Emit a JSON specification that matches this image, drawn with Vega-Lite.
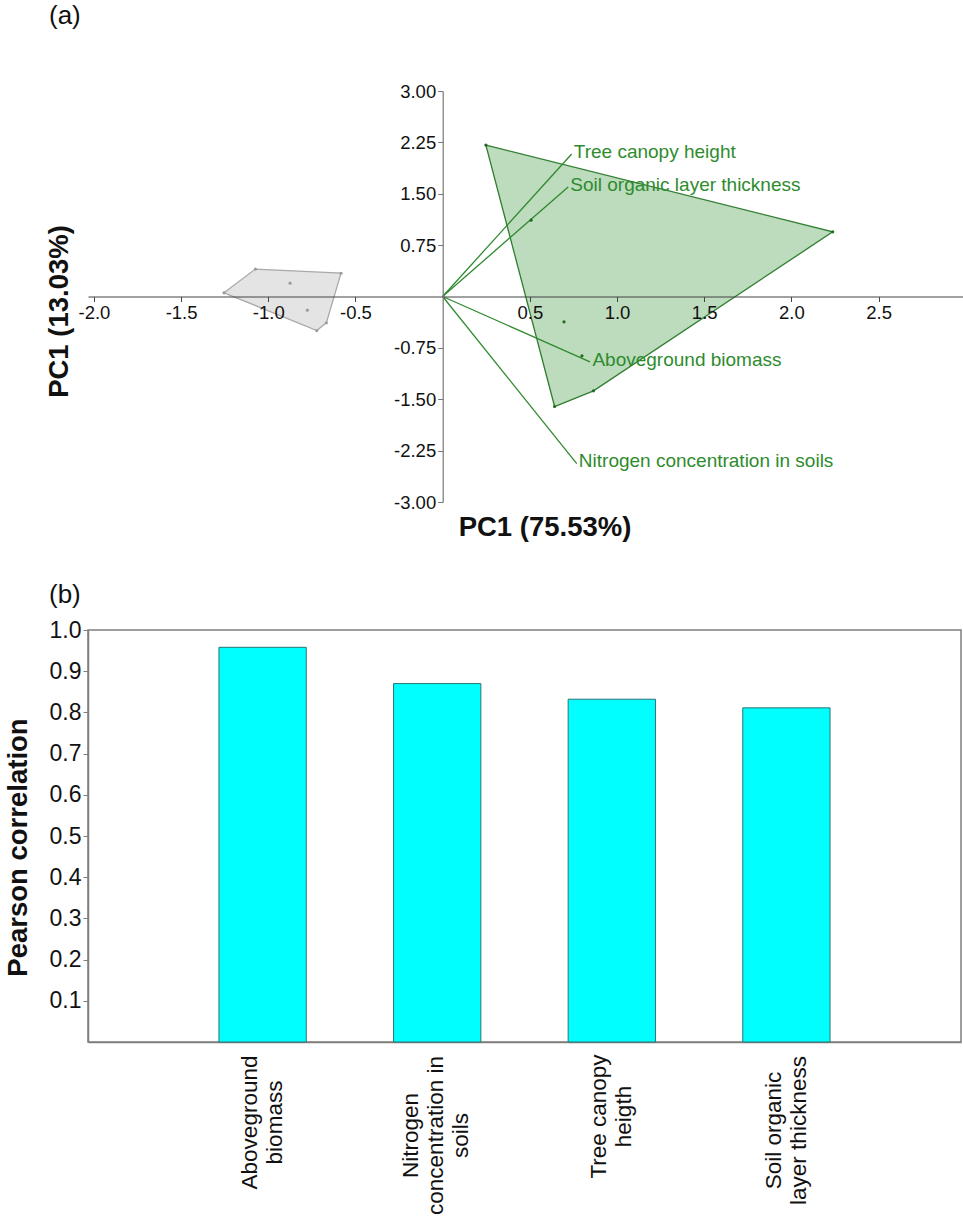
{
  "$schema": "https://vega.github.io/schema/vega-lite/v6.json",
  "padding": {"left": 3, "top": 3, "right": 0, "bottom": 0},
  "spacing": 40,
  "config": {
    "font": "Liberation Sans",
    "locale": {"number": {"decimal": ".", "thousands": ",", "grouping": [3], "currency": ["$", ""], "minus": "-"}},
    "axis": {"grid": false}
  },
  "datasets": {
    "hull": [
      {"group": "g1", "order": 1, "x": -1.254, "y": 0.054},
      {"group": "g1", "order": 2, "x": -1.074, "y": 0.40},
      {"group": "g1", "order": 3, "x": -0.583, "y": 0.34},
      {"group": "g1", "order": 4, "x": -0.667, "y": -0.385},
      {"group": "g1", "order": 5, "x": -0.722, "y": -0.497},
      {"group": "g2", "order": 1, "x": 0.248, "y": 2.21},
      {"group": "g2", "order": 2, "x": 2.237, "y": 0.944},
      {"group": "g2", "order": 3, "x": 0.865, "y": -1.377},
      {"group": "g2", "order": 4, "x": 0.642, "y": -1.606}
    ],
    "pts": [
      {"group": "g1", "x": -1.254, "y": 0.054},
      {"group": "g1", "x": -1.074, "y": 0.40},
      {"group": "g1", "x": -0.583, "y": 0.34},
      {"group": "g1", "x": -0.667, "y": -0.385},
      {"group": "g1", "x": -0.722, "y": -0.497},
      {"group": "g1", "x": -0.875, "y": 0.195},
      {"group": "g1", "x": -0.776, "y": -0.20},
      {"group": "g2", "x": 0.248, "y": 2.21},
      {"group": "g2", "x": 2.237, "y": 0.944},
      {"group": "g2", "x": 0.865, "y": -1.377},
      {"group": "g2", "x": 0.642, "y": -1.606},
      {"group": "g2", "x": 0.507, "y": 1.114},
      {"group": "g2", "x": 0.696, "y": -0.37},
      {"group": "g2", "x": 0.799, "y": -0.866}
    ],
    "arrows": [
      {"name": "Tree canopy height", "x": 0, "y": 0, "x2": 0.74, "y2": 2.08},
      {"name": "Soil organic layer thickness", "x": 0, "y": 0, "x2": 0.72, "y2": 1.60},
      {"name": "Aboveground biomass", "x": 0, "y": 0, "x2": 0.845, "y2": -0.954},
      {"name": "Nitrogen concentration in soils", "x": 0, "y": 0, "x2": 0.769, "y2": -2.44}
    ],
    "labels": [
      {"name": "Tree canopy height", "x": 0.752, "y": 2.11},
      {"name": "Soil organic layer thickness", "x": 0.732, "y": 1.635},
      {"name": "Aboveground biomass", "x": 0.859, "y": -0.925},
      {"name": "Nitrogen concentration in soils", "x": 0.781, "y": -2.40}
    ],
    "bars": [
      {"variable": "Aboveground|biomass", "r": 0.958},
      {"variable": "Nitrogen|concentration in|soils", "r": 0.870},
      {"variable": "Tree canopy|heigth", "r": 0.832},
      {"variable": "Soil organic|layer thickness", "r": 0.811}
    ]
  },
  "vconcat": [
    {
      "width": 876,
      "height": 411,
      "view": {"stroke": null},
      "title": {"text": "(a)", "anchor": "start", "frame": "group", "dx": -39, "offset": 53, "fontSize": 26, "fontWeight": "normal", "color": "#111111"},
      "encoding": {
        "x": {
          "field": "x", "type": "quantitative",
          "scale": {"domain": [-2.034, 2.99], "nice": false, "zero": false},
          "axis": {
            "orient": "bottom", "offset": -205.5, "zindex": 1,
            "values": [-2, -1.5, -1, -0.5, 0.5, 1, 1.5, 2, 2.5], "format": ".1f",
            "labelFontSize": 18.5, "labelColor": "#111111", "labelPadding": 2, "labelFlush": false, "labelOverlap": false,
            "tickSize": 5, "tickColor": "#444444", "domainColor": "#444444", "domainWidth": 1.2,
            "title": "PC1 (75.53%)", "titleFontSize": 27.5, "titleFontWeight": "bold", "titleColor": "#111111",
            "titleX": 456.5, "titleY": 230.5, "titleAlign": "center", "titleBaseline": "middle"
          }
        },
        "y": {
          "field": "y", "type": "quantitative",
          "scale": {"domain": [-3, 3], "nice": false, "zero": false},
          "axis": {
            "orient": "left", "offset": -354.7, "zindex": 1,
            "values": [-3, -2.25, -1.5, -0.75, 0.75, 1.5, 2.25, 3], "format": ".2f",
            "labelFontSize": 18.5, "labelColor": "#111111", "labelPadding": 2, "labelFlush": false, "labelOverlap": false,
            "tickSize": 5, "tickColor": "#777777", "domainColor": "#777777", "domainWidth": 1.2,
            "title": "PC1 (13.03%)", "titleFontSize": 27.5, "titleFontWeight": "bold", "titleColor": "#111111",
            "titleX": -383, "titleY": 220, "titleAlign": "center", "titleBaseline": "middle"
          }
        }
      },
      "layer": [
        {
          "data": {"name": "hull"},
          "transform": [{"filter": "datum.group === 'g1'"}],
          "mark": {"type": "line", "interpolate": "linear-closed", "fill": "#e4e4e4", "stroke": "#a9a9a9", "strokeWidth": 1.3},
          "encoding": {"order": {"field": "order", "type": "quantitative"}}
        },
        {
          "data": {"name": "hull"},
          "transform": [{"filter": "datum.group === 'g2'"}],
          "mark": {"type": "line", "interpolate": "linear-closed", "fill": "#bddbbd", "stroke": "#2f7d2f", "strokeWidth": 1.3},
          "encoding": {"order": {"field": "order", "type": "quantitative"}}
        },
        {
          "data": {"name": "arrows"},
          "mark": {"type": "rule", "color": "#2f8a2f", "strokeWidth": 1.3},
          "encoding": {"x2": {"field": "x2"}, "y2": {"field": "y2"}}
        },
        {
          "data": {"name": "pts"},
          "mark": {"type": "circle", "size": 10, "opacity": 1},
          "encoding": {
            "color": {"field": "group", "type": "nominal", "scale": {"domain": ["g1", "g2"], "range": ["#9c9c9c", "#1f6a1f"]}, "legend": null}
          }
        },
        {
          "data": {"name": "labels"},
          "mark": {"type": "text", "align": "left", "baseline": "middle", "fontSize": 19, "color": "#2e8b2e"},
          "encoding": {"text": {"field": "name"}}
        }
      ]
    },
    {
      "width": 873,
      "height": 412,
      "view": {"stroke": "#7f7f7f", "strokeWidth": 1.5},
      "title": {"text": "(b)", "anchor": "start", "frame": "group", "dx": -39, "offset": 11, "fontSize": 26, "fontWeight": "normal", "color": "#111111"},
      "data": {"name": "bars"},
      "mark": {"type": "bar", "fill": "#00ffff", "stroke": "#2a7373", "strokeWidth": 1},
      "encoding": {
        "x": {
          "field": "variable", "type": "nominal", "sort": null,
          "scale": {"paddingInner": 0.5, "paddingOuter": 0.75},
          "axis": {
            "title": null, "ticks": false, "tickSize": 0,
            "labelAngle": -90, "labelAlign": "center", "labelBaseline": "middle",
            "labelExpr": "split(datum.label, '|')", "labelLineHeight": 25,
            "labelFontSize": 22.5, "labelColor": "#111111", "labelOverlap": false, "labelLimit": 0,
            "labelPadding": {
              "condition": [
                {"test": "datum.value === 'Aboveground|biomass'", "value": 80},
                {"test": "datum.value === 'Nitrogen|concentration in|soils'", "value": 93},
                {"test": "datum.value === 'Tree canopy|heigth'", "value": 74}
              ],
              "value": 88
            },
            "labelOffset": {
              "condition": [
                {"test": "datum.value === 'Nitrogen|concentration in|soils'", "value": -26}
              ],
              "value": -12.5
            },
            "domainColor": "#7f7f7f", "domainWidth": 1.5
          }
        },
        "y": {
          "field": "r", "type": "quantitative",
          "scale": {"domain": [0, 1], "nice": false},
          "axis": {
            "values": [0.1, 0.2, 0.3, 0.4, 0.5, 0.6, 0.7, 0.8, 0.9, 1.0], "format": ".1f",
            "labelFontSize": 23, "labelColor": "#111111", "labelPadding": 2, "labelFlush": false, "labelOverlap": false,
            "tickSize": 5, "tickColor": "#7f7f7f", "domainColor": "#7f7f7f", "domainWidth": 1.5,
            "title": "Pearson correlation", "titleFontSize": 27.5, "titleFontWeight": "bold", "titleColor": "#111111",
            "titleX": -70, "titleY": 217, "titleAlign": "center", "titleBaseline": "middle"
          }
        }
      }
    }
  ]
}
